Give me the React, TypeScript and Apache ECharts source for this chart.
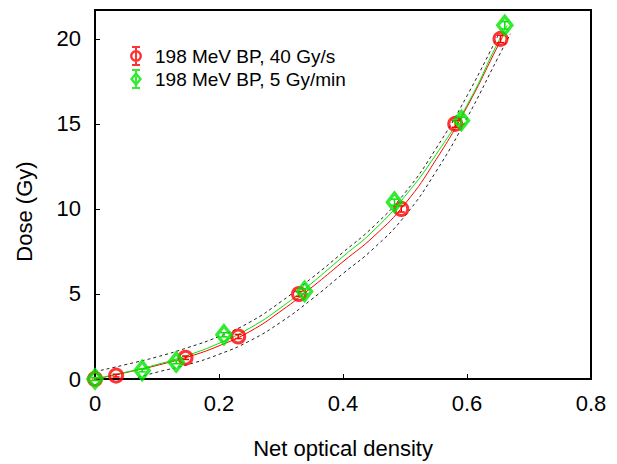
import React, { useEffect, useRef } from "react";
import * as echarts from "echarts";

// Measured points (net optical density, dose in Gy)
const redOD = [0, 0.034, 0.146, 0.231, 0.329, 0.494, 0.581, 0.654];
const redDose = [0, 0.2, 1.25, 2.5, 5, 10, 15, 20];
const redErr = [0.08, 0.08, 0.1, 0.12, 0.14, 0.18, 0.2, 0.22];

const greenOD = [0, 0.076, 0.131, 0.208, 0.338, 0.483, 0.591, 0.661];
const greenDose = [0, 0.5, 1, 2.6, 5.15, 10.4, 15.2, 20.8];
const greenErr = [0.08, 0.08, 0.1, 0.12, 0.14, 0.18, 0.2, 0.22];

// Fit curves
const redFitOD = [0, 0.05, 0.1, 0.15, 0.2, 0.25, 0.3, 0.35, 0.4, 0.45, 0.5, 0.55, 0.6, 0.65, 0.66];
const redFitDose = [0, 0.38, 0.8, 1.3, 1.95, 2.8, 4.0, 5.4, 6.9, 8.4, 10.3, 12.9, 16.0, 19.6, 20.3];

const greenFitOD = [0, 0.05, 0.1, 0.15, 0.2, 0.25, 0.3, 0.35, 0.4, 0.45, 0.5, 0.55, 0.6, 0.65, 0.665];
const greenFitDose = [0, 0.4, 0.85, 1.4, 2.1, 3.0, 4.2, 5.65, 7.2, 8.75, 10.75, 13.2, 16.1, 19.8, 20.8];

// Confidence band (dashed)
const upperOD = [0, 0.05, 0.1, 0.15, 0.2, 0.25, 0.3, 0.35, 0.4, 0.45, 0.5, 0.55, 0.6, 0.65];
const upperDose = [0.43, 0.85, 1.3, 1.85, 2.5, 3.35, 4.55, 5.95, 7.45, 9.0, 10.95, 13.55, 16.65, 20.2];

const lowerOD = [0.06, 0.1, 0.15, 0.2, 0.25, 0.3, 0.35, 0.4, 0.45, 0.5, 0.55, 0.6, 0.65, 0.67];
const lowerDose = [0, 0.4, 0.85, 1.45, 2.25, 3.35, 4.7, 6.2, 7.7, 9.6, 12.2, 15.35, 18.9, 20.3];

const redName = "198 MeV BP, 40 Gy/s";
const greenName = "198 MeV BP, 5 Gy/min";

const RED = "#ff0000";
const GREEN = "#00e600";
const FONT = "Liberation Sans, Arial, sans-serif";

const zip = (a: number[], b: number[]) => a.map((v, i) => [v, b[i]]);
const zip3 = (a: number[], b: number[], c: number[]) => a.map((v, i) => [v, b[i], c[i]]);

const circleIcon =
  "path://M2,0H10V2H2Z M2,18H10V20H2Z M5,0H7V20H5Z M12,10A6,6 0 1,1 0,10A6,6 0 1,1 12,10Z M9.5,10A3.5,3.5 0 1,0 2.5,10A3.5,3.5 0 1,0 9.5,10Z";
const diamondIcon =
  "path://M2,0H10V2H2Z M2,18H10V20H2Z M5,0H7V20H5Z M6,2.5L12,10L6,17.5L0,10Z M6,6.5L3,10L6,13.5L9,10Z";

function errorBars(color: string) {
  return (params: any, api: any) => {
    const x = api.value(0);
    const y = api.value(1);
    const e = api.value(2);
    const top = api.coord([x, y + e]);
    const bot = api.coord([x, y - e]);
    const hw = 3.5;
    const st = { stroke: color, lineWidth: 1.5 };
    return {
      type: "group",
      children: [
        { type: "line", shape: { x1: top[0], y1: top[1], x2: bot[0], y2: bot[1] }, style: st },
        { type: "line", shape: { x1: top[0] - hw, y1: top[1], x2: top[0] + hw, y2: top[1] }, style: st },
        { type: "line", shape: { x1: bot[0] - hw, y1: bot[1], x2: bot[0] + hw, y2: bot[1] }, style: st },
      ],
    };
  };
}

export default function App() {
  const ref = useRef<HTMLDivElement>(null);
  useEffect(() => {
    document.body.style.margin = "0";
    if (!ref.current) return;
    const chart = echarts.init(ref.current, undefined, { renderer: "svg" });
    chart.setOption({
      animation: false,
      backgroundColor: "#fff",
      textStyle: { fontFamily: FONT },
      grid: {
        left: 95,
        right: 26,
        top: 10,
        bottom: 85,
        show: true,
        borderColor: "#000",
        borderWidth: 2,
        backgroundColor: "transparent",
      },
      legend: {
        orient: "vertical",
        left: 125,
        top: 41,
        itemWidth: 28,
        itemHeight: 20,
        itemGap: 3,
        textStyle: { fontSize: 19, color: "#000", fontFamily: FONT },
        data: [
          { name: redName, icon: circleIcon, itemStyle: { color: RED, borderWidth: 0 } },
          { name: greenName, icon: diamondIcon, itemStyle: { color: GREEN, borderWidth: 0 } },
        ],
      },
      xAxis: {
        type: "value",
        min: 0,
        max: 0.8,
        interval: 0.2,
        name: "Net optical density",
        nameLocation: "middle",
        nameGap: 58,
        nameTextStyle: { fontSize: 22, color: "#000", fontFamily: FONT },
        axisLine: { lineStyle: { color: "#000", width: 2 } },
        axisTick: { inside: true, length: 5, lineStyle: { color: "#000", width: 1 } },
        axisLabel: {
          fontSize: 22,
          color: "#000",
          margin: 13,
          fontFamily: FONT,
          formatter: (v: number) => (v === 0 ? "0" : v.toFixed(1)),
        },
        splitLine: { show: false },
      },
      yAxis: {
        type: "value",
        min: 0,
        max: 21.7,
        interval: 5,
        name: "Dose (Gy)",
        nameLocation: "middle",
        nameGap: 60,
        nameTextStyle: { fontSize: 22, color: "#000", fontFamily: FONT, padding: [0, 34, 0, 0] },
        axisLine: { lineStyle: { color: "#000", width: 2 } },
        axisTick: { inside: true, length: 5, lineStyle: { color: "#000", width: 1 } },
        axisLabel: {
          fontSize: 22,
          color: "#000",
          margin: 14,
          fontFamily: FONT,
          formatter: (v: number) => (Math.abs(v % 5) < 1e-9 ? String(v) : ""),
        },
        splitLine: { show: false },
      },
      series: [
        {
          type: "line",
          data: zip(lowerOD, lowerDose),
          smooth: true,
          showSymbol: false,
          silent: true,
          lineStyle: { color: "#222", width: 1, type: [3, 3] },
          z: 1,
        },
        {
          type: "line",
          data: zip(upperOD, upperDose),
          smooth: true,
          showSymbol: false,
          silent: true,
          lineStyle: { color: "#222", width: 1, type: [3, 3] },
          z: 1,
        },
        {
          type: "line",
          data: zip(redFitOD, redFitDose),
          smooth: true,
          showSymbol: false,
          silent: true,
          lineStyle: { color: RED, width: 1 },
          z: 2,
        },
        {
          type: "line",
          data: zip(greenFitOD, greenFitDose),
          smooth: true,
          showSymbol: false,
          silent: true,
          lineStyle: { color: GREEN, width: 1 },
          z: 2,
        },
        {
          name: redName,
          type: "scatter",
          data: zip(redOD, redDose),
          symbol: "circle",
          symbolSize: 13,
          clip: false,
          itemStyle: { color: "rgba(255,255,255,0)", borderColor: RED, borderWidth: 3 },
          z: 3,
        },
        {
          type: "custom",
          data: zip3(redOD, redDose, redErr),
          renderItem: errorBars(RED),
          encode: { x: 0, y: 1 },
          silent: true,
          clip: false,
          z: 4,
        },
        {
          name: greenName,
          type: "scatter",
          data: zip(greenOD, greenDose),
          symbol: "diamond",
          symbolSize: [14, 18],
          clip: false,
          itemStyle: { color: "rgba(255,255,255,0)", borderColor: GREEN, borderWidth: 3.5 },
          z: 5,
        },
        {
          type: "custom",
          data: zip3(greenOD, greenDose, greenErr),
          renderItem: errorBars(GREEN),
          encode: { x: 0, y: 1 },
          silent: true,
          clip: false,
          z: 6,
        },
      ],
    });
    return () => chart.dispose();
  }, []);
  return <div ref={ref} style={{ width: 617, height: 464 }} />;
}
